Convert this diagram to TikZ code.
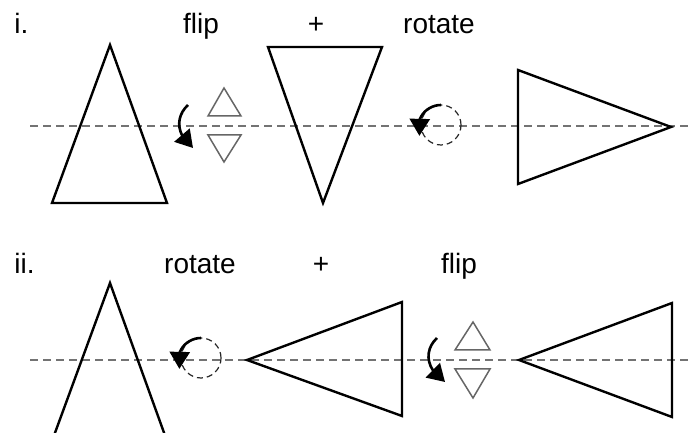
\documentclass[tikz,border=0pt]{standalone}
\usepackage{fontspec}
\setmainfont{Liberation Sans}
\usetikzlibrary{arrows.meta, bending}
\tikzset{
    shapeline/.style={draw=black, line width=1.2pt, line join=miter},
    axisline/.style={draw=black!55, line width=0.9pt, dash pattern=on 4pt off 2.5pt},
    ghostshape/.style={draw=black!60, line width=0.75pt},
    ghostcircle/.style={draw=black!85, line width=0.6pt, dash pattern=on 3pt off 2pt},
    turnarrow/.style={-{Triangle[length=8.5pt,width=10pt]}, line width=1.3pt, draw=black},
    steplabel/.style={font=\fontsize{14}{16}\selectfont, anchor=base, inner sep=0pt}
}
\begin{document}
\begin{tikzpicture}[x=0.5pt, y=0.5pt]
    \useasboundingbox (0,0) rectangle (688,432);
    \clip (0,0) rectangle (688,432);

    % Row i: flip + rotate
    \node[steplabel, anchor=base west] (rowi) at (14,398) {i.};
    \node[steplabel] (flipi) at (201,398) {flip};
    \node[steplabel] (plusi) at (316,398) {+};
    \node[steplabel] (roti) at (439,398) {rotate};

    \draw[axisline] (30,306) -- (688,306);
    \draw[shapeline] (110,387) -- (52,229) -- (167,229) -- cycle;
    \draw[shapeline] (268,385) -- (382,385) -- (323,229) -- cycle;
    \draw[shapeline] (518,362) -- (518,248) -- (671,305) -- cycle;

    % flip sign
    \draw[ghostshape] (224,344) -- (208,316) -- (241,316) -- cycle;
    \draw[ghostshape] (208,297) -- (241,297) -- (224,270) -- cycle;
    \coordinate (fa1) at (188,327);
    \coordinate (fb1) at (193,284);
    \draw[turnarrow] (fa1) .. controls (176,316) and (175,298) .. (fb1);

    % rotate sign
    \coordinate (rc1) at (441,307);
    \coordinate (ra1) at (441,327);
    \draw[ghostcircle] (rc1) circle[radius=20];
    \draw[turnarrow] (ra1) arc[start angle=90, end angle=200, radius=23];

    % Row ii: rotate + flip
    \node[steplabel, anchor=base west] (rowii) at (14,158) {ii.};
    \node[steplabel] (rotii) at (200,158) {rotate};
    \node[steplabel] (plusii) at (321,158) {+};
    \node[steplabel] (flipii) at (459,158) {flip};

    \draw[axisline] (30,72) -- (688,72);
    \draw[shapeline] (110,149) -- (52,-9) -- (167,-9) -- cycle;
    \draw[shapeline] (247,72) -- (402,130) -- (402,16) -- cycle;
    \draw[shapeline] (519,72) -- (672,129) -- (672,15) -- cycle;

    % rotate sign
    \coordinate (rc2) at (201,74);
    \coordinate (ra2) at (201,94);
    \draw[ghostcircle] (rc2) circle[radius=20];
    \draw[turnarrow] (ra2) arc[start angle=90, end angle=200, radius=23];

    % flip sign
    \draw[ghostshape] (473,110) -- (455,82) -- (490,82) -- cycle;
    \draw[ghostshape] (455,63) -- (490,63) -- (473,34) -- cycle;
    \coordinate (fa2) at (437,94);
    \coordinate (fb2) at (445,50);
    \draw[turnarrow] (fa2) .. controls (425,83) and (424,64) .. (fb2);
\end{tikzpicture}
\end{document}
